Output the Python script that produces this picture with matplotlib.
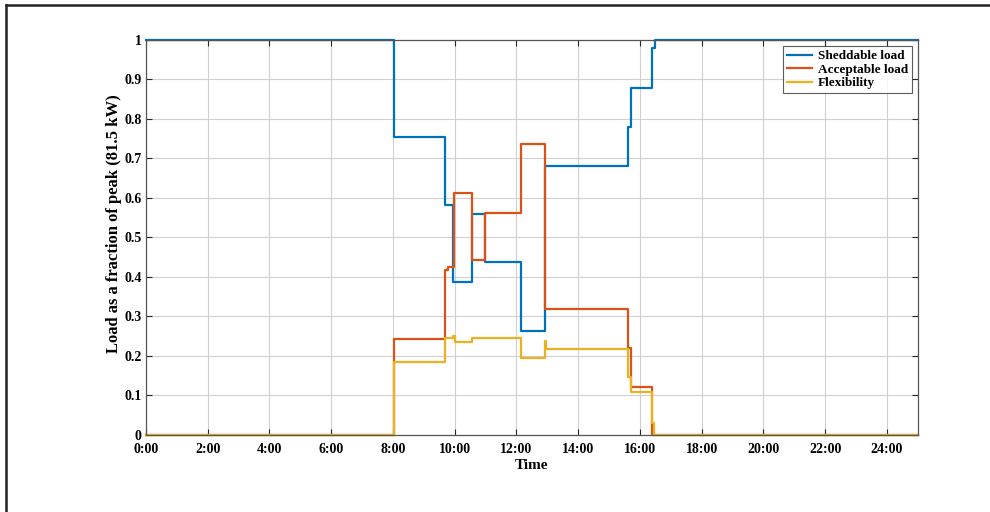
import matplotlib.pyplot as plt
from matplotlib.lines import Line2D

# step data (hours, fraction of peak)
shed_t = [0, 8.02, 9.69, 9.93, 10.55, 10.97, 12.16, 12.94, 15.63, 15.70, 16.39, 16.49, 25]
shed_v = [1.0, 0.755, 0.582, 0.387, 0.559, 0.437, 0.263, 0.681, 0.78, 0.878, 0.979, 1.0, 1.0]

acc_t = [0, 8.02, 9.69, 9.77, 9.99, 10.55, 10.97, 12.16, 12.92, 15.63, 15.70, 16.39, 25]
acc_v = [0.0, 0.243, 0.418, 0.425, 0.613, 0.443, 0.563, 0.736, 0.319, 0.219, 0.122, 0.0, 0.0]

flex_t = [0, 8.02, 9.69, 9.96, 10.0, 10.55, 12.16, 12.94, 12.97, 15.63, 15.70, 16.39, 16.47, 25]
flex_v = [0.0, 0.184, 0.245, 0.25, 0.236, 0.246, 0.194, 0.238, 0.218, 0.148, 0.108, 0.03, 0.0, 0.0]

x_ticks = list(range(0, 25, 2))
x_labels = [f"{h}:00" for h in x_ticks]
y_ticks = [i / 10 for i in range(11)]
y_labels = ["0"] + [f"{v:.1f}" for v in y_ticks[1:-1]] + ["1"]

plt.rcParams['font.family'] = ['Liberation Serif', 'DejaVu Serif']
plt.rcParams['font.weight'] = 'bold'

fig = plt.figure(figsize=(9.9, 5.12), dpi=100)
ax = fig.add_axes([0.1475, 0.1504, 0.7795, 0.7715])

ax.plot(shed_t, shed_v, drawstyle='steps-post', color='#0072BD', lw=1.6, label='Sheddable load', clip_on=False)
ax.plot(acc_t, acc_v, drawstyle='steps-post', color='#D95319', lw=1.6, label='Acceptable load', clip_on=False)
ax.plot(flex_t, flex_v, drawstyle='steps-post', color='#EDB120', lw=1.6, label='Flexibility', clip_on=False)

ax.set_xlim(0, 25)
ax.set_ylim(0, 1)
ax.set_xticks(x_ticks)
ax.set_xticklabels(x_labels, fontsize=10, fontweight='bold')
ax.set_yticks(y_ticks)
ax.set_yticklabels(y_labels, fontsize=10, fontweight='bold')
ax.tick_params(direction='in', length=4, width=0.8, color='#262626',
               top=True, right=True)
ax.tick_params(axis='x', pad=6)
ax.tick_params(axis='y', pad=3)
ax.grid(True, color='#d0d0d0', lw=0.8)
for s in ax.spines.values():
    s.set_color('#555555')
    s.set_linewidth(0.9)

ax.set_xlabel('Time', fontsize=11, fontweight='bold')
ax.xaxis.set_label_coords(0.5, -0.062)
ax.set_ylabel('Load as a fraction of peak (81.5 kW)', fontsize=12, fontweight='bold')
ax.yaxis.set_label_coords(-0.031, 0.535)

leg = ax.legend(loc='upper right', fontsize=9.5, frameon=True, fancybox=False,
                edgecolor='#333333', borderpad=0.3, labelspacing=0.1,
                handlelength=1.9, handletextpad=0.4, borderaxespad=0.45)
leg.get_frame().set_linewidth(0.8)
for t in leg.get_texts():
    t.set_fontweight('bold')

# outer frame of the figure (top and left edges)
fig.add_artist(Line2D([6 / 990, 1.0], [1 - 5 / 512, 1 - 5 / 512], color='#222222', lw=1.8,
                      transform=fig.transFigure))
fig.add_artist(Line2D([6 / 990, 6 / 990], [0.0, 1 - 5 / 512], color='#222222', lw=1.8,
                      transform=fig.transFigure))

fig.savefig('out.png', dpi=100)
